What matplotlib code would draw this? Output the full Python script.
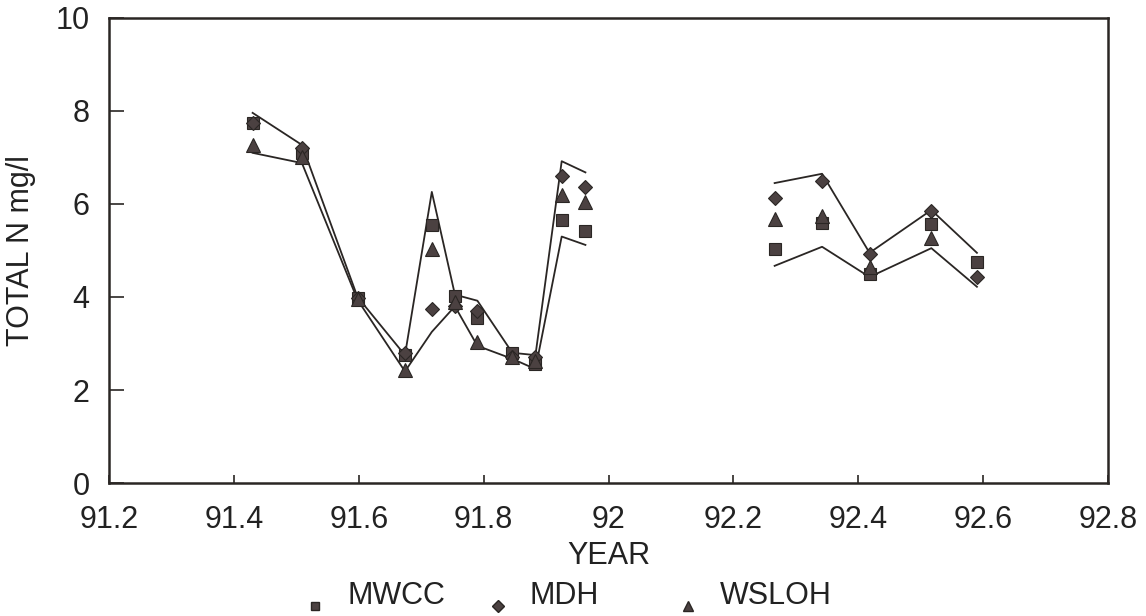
import numpy as np
import matplotlib.pyplot as plt
from matplotlib.lines import Line2D

plt.rcParams['font.family'] = ['Liberation Sans', 'DejaVu Sans']

# sampling dates (decimal year) and lab results, total N in mg/l
year = [91.430, 91.509, 91.598, 91.674, 91.717, 91.754, 91.790, 91.846,
        91.883, 91.925, 91.963,
        92.266, 92.342, 92.418, 92.517, 92.590]
mwcc = [7.75, 7.10, 3.97, 2.75, 5.54, 4.03, 3.55, 2.80,
        2.55, 5.65, 5.43,
        5.04, 5.60, 4.50, 5.58, 4.76]
mdh = [7.75, 7.20, 3.97, 2.80, 3.75, 3.80, 3.70, 2.72,
       2.70, 6.60, 6.37,
       6.12, 6.49, 4.93, 5.86, 4.44]
wsloh = [7.26, 7.00, 3.95, 2.42, 5.04, 3.90, 3.04, 2.70,
         2.62, 6.20, 6.05,
         5.68, 5.75, 4.65, 5.26, np.nan]

# upper and lower limit lines, broken between the two sampling periods
limit_year = year[:11] + [92.1] + year[11:]
upper = [7.96, 7.27, 4.00, 2.75, 6.26, 4.05, 3.92, 2.80, 2.75, 6.92, 6.68,
         np.nan,
         6.45, 6.65, 4.95, 5.87, 4.95]
lower = [7.10, 6.88, 3.94, 2.40, 3.25, 3.80, 2.95, 2.67, 2.45, 5.30, 5.12,
         np.nan,
         4.67, 5.08, 4.43, 5.05, 4.22]

labels = ['MWCC', 'MDH', 'WSLOH']

ink = '#2a2624'
mark = '#4b4141'
txt = '#222222'
W, H = 1146, 616

fig = plt.figure(figsize=(W / 100, H / 100), dpi=100)
ax = fig.add_axes([0.0951, 0.2159, 0.8718, 0.7549])

ax.plot(limit_year, upper, color=ink, lw=1.3)
ax.plot(limit_year, lower, color=ink, lw=1.3)

ax.plot(year, mwcc, ls='none', marker='s', ms=8, mfc=mark, mec=ink, mew=0.8)
ax.plot(year, mdh, ls='none', marker='D', ms=7.5, mfc=mark, mec=ink, mew=0.8)
ax.plot(year, wsloh, ls='none', marker='^', ms=10, mfc=mark, mec=ink, mew=0.8)

ax.set_xlim(91.2, 92.8)
ax.set_ylim(0, 10)
ax.set_xticks(np.arange(91.2, 92.81, 0.2))
ax.set_xticklabels(['91.2', '91.4', '91.6', '91.8', '92', '92.2', '92.4',
                    '92.6', '92.8'])
ax.set_yticks([0, 2, 4, 6, 8, 10])
ax.tick_params(axis='x', direction='in', length=6, width=1.2, color=ink,
               labelsize=22, pad=16, labelcolor=txt)
ax.tick_params(axis='y', direction='in', length=11, width=1.2, color=ink,
               labelsize=22, pad=14, labelcolor=txt)
for side in ['left', 'bottom', 'right', 'top']:
    ax.spines[side].set_linewidth(1.8)
    ax.spines[side].set_color(ink)

ax.set_xlabel('YEAR', fontsize=22, color=txt, labelpad=4)
ax.set_ylabel('TOTAL N mg/l', fontsize=22, color=txt, labelpad=14)

# key below the plot: marker, then label
key_x = [315, 498, 688]
key_marker = ['s', 'D', '^']
key_size = [6, 6, 7.5]
for x, m, s, lab in zip(key_x, key_marker, key_size, labels):
    fig.add_artist(Line2D([x / W], [1 - 606 / H], ls='none', marker=m, ms=s,
                          mfc=mark, mec=ink, transform=fig.transFigure))
    fig.text((x + 32) / W, 1 - 604 / H, lab, fontsize=22, color=txt,
             ha='left', va='baseline')

fig.savefig('out.png', dpi=100)
